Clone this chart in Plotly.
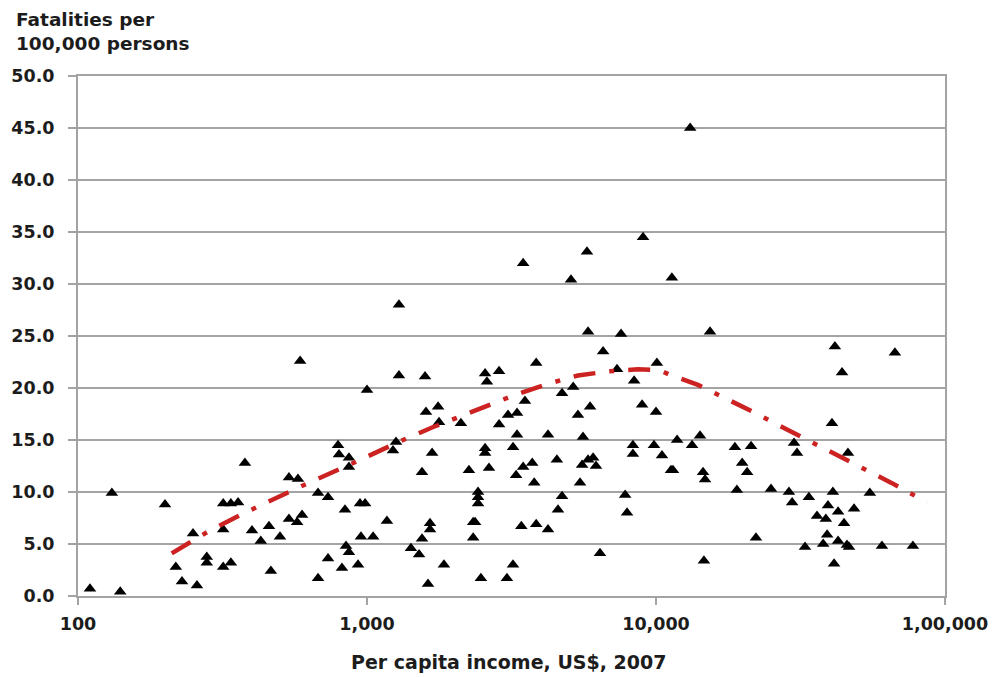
import plotly.graph_objects as go

# Country observations: per capita income (US$, 2007) and road fatalities per 100,000 persons
income = [
    110, 140, 131, 200, 378, 587, 250, 218, 229, 258, 279, 279, 318, 338, 358, 318, 318, 338,
    400, 429, 458, 500, 465, 537, 537, 573, 577, 596,
    677, 733, 677, 733, 819, 839, 846, 866, 931, 794, 800, 866, 866, 946, 985, 953, 1050,
    1000, 1172, 1230, 1260, 1290, 1588, 1680, 1550, 1600, 1762, 1775, 1652, 1652, 1550,
    1419, 1514, 1626, 1846, 2113, 2253, 2643, 2562, 2562, 2422, 2422, 2422, 2330, 2366,
    2330, 2478, 2562, 2600, 2864, 3076, 3305, 2864, 3202, 3305, 3280, 3200, 3050, 3420,
    5820, 7570, 15380, 6560, 3850, 7330, 10070, 8400, 4730, 5170, 3520, 5915, 5370, 8950,
    10000, 4230, 5590, 8320, 8320, 9840, 10490, 11830, 13330, 14200, 18750, 4540, 3470,
    3730, 3790, 5550, 5820, 6060, 6200, 5460, 11270, 11450, 14550, 14780, 19050, 4730,
    4580, 7820, 7940, 3850, 4230, 6400, 14650,
    13130, 9020, 5770, 3470, 5080, 11350, 1290,
    41590, 67100, 44030, 40640, 21330, 30040, 30760, 46150, 19870, 20670, 25000, 28840,
    29580, 33810, 40930, 54950, 39360, 42660, 48450, 36070, 38700, 44730, 22180, 39100,
    37880, 42660, 45790, 46550, 32780, 60500, 77430, 41320,
]
fatalities = [
    0.7, 0.4, 9.9, 8.8, 12.8, 22.6, 6.0, 2.8, 1.4, 1.0, 3.75, 3.2, 8.9, 8.9, 9.0, 6.4, 2.8, 3.2,
    6.3, 5.3, 6.7, 5.7, 2.4, 11.4, 7.4, 7.1, 11.25, 7.8,
    9.9, 9.5, 1.7, 3.6, 2.7, 8.3, 4.8, 4.2, 3.0, 14.5, 13.6, 13.3, 12.4, 8.9, 8.9, 5.7, 5.7,
    19.8, 7.2, 14.0, 14.8, 21.2, 21.1, 13.75, 11.9, 17.7, 18.2, 16.7, 7.0, 6.4, 5.5,
    4.6, 4.0, 1.15, 3.0, 16.6, 12.1, 12.3, 14.2, 13.75, 10.0, 9.5, 8.9, 7.1, 7.1,
    5.6, 1.7, 21.4, 20.6, 21.6, 17.4, 17.6, 16.5, 14.3, 15.5, 11.6, 3.0, 1.7, 6.7,
    25.4, 25.2, 25.4, 23.5, 22.4, 21.8, 22.4, 20.7, 19.5, 20.1, 18.75, 18.2, 17.4, 18.4,
    17.7, 15.5, 15.3, 14.5, 13.65, 14.5, 13.5, 15.0, 14.5, 15.4, 14.3, 13.1, 12.4,
    12.8, 10.9, 12.6, 13.1, 13.3, 12.5, 10.9, 12.1, 12.1, 11.9, 11.2, 10.2, 9.6,
    8.3, 9.7, 8.0, 6.9, 6.4, 4.1, 3.4,
    45.0, 34.5, 33.1, 32.0, 30.4, 30.6, 28.0,
    24.0, 23.4, 21.5, 16.6, 14.4, 14.7, 13.75, 13.75, 12.8, 11.9, 10.3, 10.0,
    9.0, 9.5, 10.0, 9.9, 8.7, 8.1, 8.4, 7.7, 7.4, 7.0, 5.6, 5.9,
    5.0, 5.3, 4.9, 4.7, 4.7, 4.8, 4.8, 3.1,
]

# Fitted trend across the income range
trend_income = [211, 282, 378, 508, 586, 866, 1067, 1333, 1679, 2113, 2643, 3228, 4230,
                5370, 6820, 8670, 10330, 11090, 13970, 17460, 21660, 27090, 33600, 41980,
                52000, 65030, 86700]
trend_rate = [4.1, 6.2, 8.0, 9.7, 10.5, 12.6, 13.8, 15.0, 16.2, 17.3, 18.4, 19.3, 20.4,
              21.2, 21.6, 21.8, 21.7, 21.3, 20.3, 19.0, 17.7, 16.3, 15.0, 13.65,
              12.3, 10.9, 9.0]

x_tick_vals = [100, 1000, 10000, 100000]
x_tick_text = ["100", "1,000", "10,000", "1,00,000"]
y_tick_vals = [0, 5, 10, 15, 20, 25, 30, 35, 40, 45, 50]
y_tick_text = [f"{v:.1f}" for v in y_tick_vals]

FONT = "DejaVu Sans Bold, DejaVu Sans, sans-serif"
INK = "#1c1c1c"
GRID = "#a3a3a3"

fig = go.Figure()
fig.add_trace(go.Scatter(
    x=income, y=fatalities, mode="markers",
    marker=dict(symbol="triangle-up", size=11, color="black"),
    showlegend=False, hoverinfo="x+y",
))
fig.add_trace(go.Scatter(
    x=trend_income, y=trend_rate, mode="lines",
    line=dict(color="#cc2222", width=4.5, dash="22px,14px,5px,14px"),
    showlegend=False, hoverinfo="skip",
))

fig.update_layout(
    width=993, height=677,
    margin=dict(l=78, r=48, t=76, b=81, autoexpand=False),
    paper_bgcolor="white", plot_bgcolor="white",
    font=dict(family=FONT, size=17.5, color=INK),
    xaxis=dict(
        type="log", range=[2, 5], automargin=False,
        tickvals=x_tick_vals, ticktext=x_tick_text,
        showgrid=False, zeroline=False,
        showline=True, linecolor=GRID, linewidth=2, mirror=True,
        ticks="outside", ticklen=7, tickcolor=GRID, tickwidth=2,
        tickfont=dict(family=FONT, size=17.5, color=INK, weight="bold"),
        ticklabelstandoff=4,
    ),
    yaxis=dict(
        range=[0, 50], automargin=False,
        tickvals=y_tick_vals, ticktext=y_tick_text,
        showgrid=True, gridcolor=GRID, gridwidth=2, zeroline=False,
        showline=True, linecolor=GRID, linewidth=2, mirror=True,
        ticks="outside", ticklen=8, tickcolor=GRID, tickwidth=2,
        tickfont=dict(family=FONT, size=17.5, color=INK, weight="bold"),
        ticklabelstandoff=10,
    ),
    annotations=[
        dict(text="<b>Fatalities per<br>100,000 persons</b>", xref="paper", yref="paper",
             x=-0.074, y=1.132, xanchor="left", yanchor="top", align="left",
             showarrow=False, font=dict(family=FONT, size=18.5, color=INK)),
        dict(text="<b>Per capita income, US$, 2007</b>", xref="paper", yref="paper",
             x=0.497, y=-0.127, xanchor="center", yanchor="middle",
             showarrow=False, font=dict(family=FONT, size=19, color=INK)),
    ],
)

fig.write_html("out.html")
